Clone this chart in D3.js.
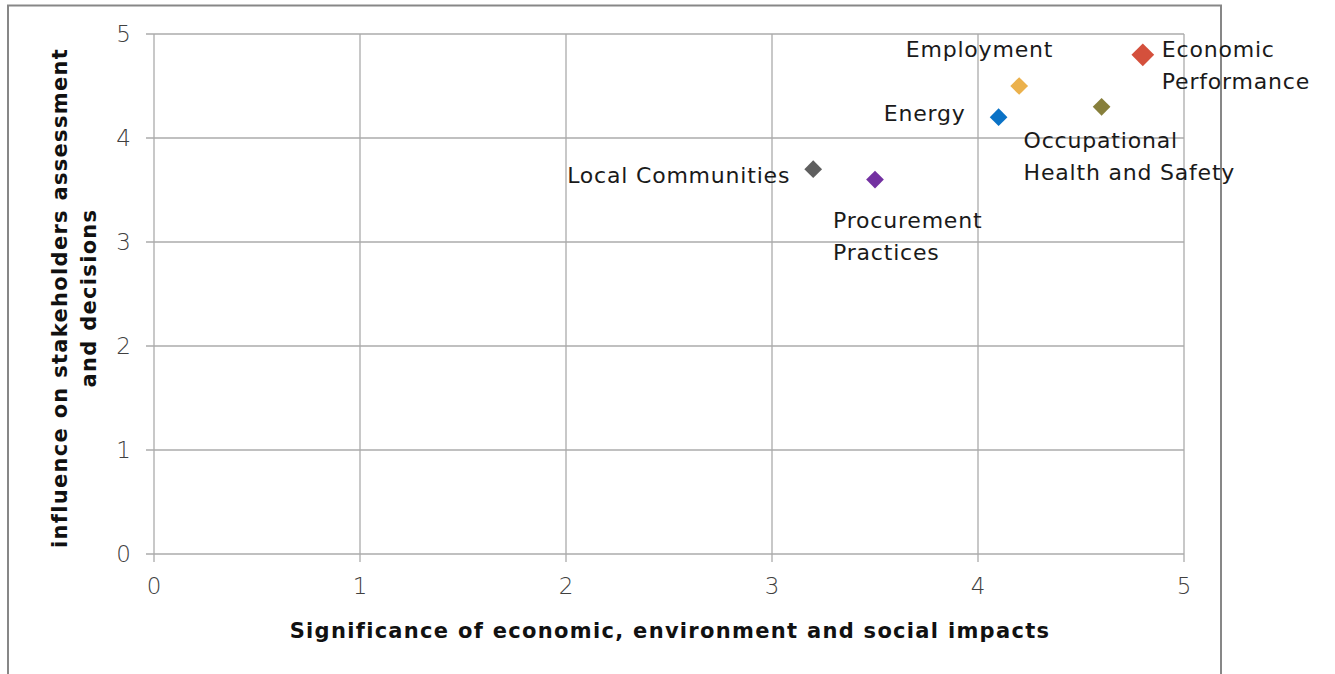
<!DOCTYPE html>
<html lang="en">
<head>
<meta charset="UTF-8">
<title>Materiality</title>
<script src="https://d3js.org/d3.v7.min.js"></script>
<style>
  body { margin: 0; background: #fff; }
  svg { display: block; font-family: "DejaVu Sans", sans-serif; }
</style>
</head>
<body>
<svg id="chart"></svg>
<script>
    const width = 1335;
    const height = 674;

    // data
    const topics = ["Economic Performance", "Employment", "Occupational Health and Safety", "Energy", "Local Communities", "Procurement Practices"];
    const significance = [4.8, 4.2, 4.6, 4.1, 3.2, 3.5];
    const influence = [4.8, 4.5, 4.3, 4.2, 3.7, 3.6];
    const colors = ["#d4503c", "#ebb14c", "#877f3b", "#0a72c6", "#5f5f5f", "#7331a1"];
    const labelLines = [["Economic", "Performance"], ["Employment"], ["Occupational", "Health and Safety"], ["Energy"], ["Local Communities"], ["Procurement", "Practices"]];
    const xTicks = [0, 1, 2, 3, 4, 5];
    const yTicks = [0, 1, 2, 3, 4, 5];

    // label placement: side and offsets relative to the point
    const labelPos = [
        {anchor: "start", dx: 19, dy: 2},
        {anchor: "end", dx: 34, dy: -29},
        {anchor: "start", dx: -78, dy: 41},
        {anchor: "end", dx: -33, dy: 4},
        {anchor: "end", dx: -23, dy: 14},
        {anchor: "start", dx: -42, dy: 48}
    ];

    const margin = {top: 34, right: 151, bottom: 120, left: 154};

    const x = d3.scaleLinear()
        .domain([0, 5])
        .range([margin.left, width - margin.right]);

    const y = d3.scaleLinear()
        .domain([0, 5])
        .range([height - margin.bottom, margin.top]);

    const svg = d3.select("#chart")
        .attr("width", width)
        .attr("height", height);

    // outer chart frame
    svg.append("path")
        .attr("d", "M8,680 L8,5.5 L1221,5.5 L1221,680")
        .attr("fill", "none")
        .attr("stroke", "#878787")
        .attr("stroke-width", 2);

    const grid = "#ababab";

    // grid lines
    svg.append("g")
        .selectAll("line")
        .data(xTicks)
        .join("line")
        .attr("x1", d => x(d)).attr("x2", d => x(d))
        .attr("y1", y(0) + 8).attr("y2", y(5))
        .attr("stroke", grid).attr("stroke-width", 1.3);

    svg.append("g")
        .selectAll("line")
        .data(yTicks)
        .join("line")
        .attr("x1", x(0) - 8).attr("x2", x(5))
        .attr("y1", d => y(d)).attr("y2", d => y(d))
        .attr("stroke", grid).attr("stroke-width", 1.3);

    // tick labels
    svg.append("g")
        .selectAll("text")
        .data(xTicks)
        .join("text")
        .attr("x", d => x(d))
        .attr("y", y(0) + 40)
        .attr("text-anchor", "middle")
        .attr("font-size", 23)
        .attr("font-weight", 200)
        .attr("fill", "#404040")
        .text(d => d);

    svg.append("g")
        .selectAll("text")
        .data(yTicks)
        .join("text")
        .attr("x", x(0) - 23)
        .attr("y", d => y(d) + 8)
        .attr("text-anchor", "end")
        .attr("font-size", 23)
        .attr("font-weight", 200)
        .attr("fill", "#404040")
        .text(d => d);

    // axis titles
    svg.append("text")
        .attr("x", 670)
        .attr("y", 638)
        .attr("text-anchor", "middle")
        .attr("font-size", 21)
        .attr("font-weight", "bold")
        .attr("letter-spacing", 1.3)
        .attr("fill", "#111")
        .text("Significance of economic, environment and social impacts");

    const yTitle = svg.append("text")
        .attr("transform", "translate(67," + (y(2.5) + 4) + ") rotate(-90)")
        .attr("text-anchor", "middle")
        .attr("font-size", 21)
        .attr("font-weight", "bold")
        .attr("letter-spacing", 1.3)
        .attr("fill", "#111");
    yTitle.append("tspan").attr("x", 0).attr("dy", 0).text("influence on stakeholders assessment");
    yTitle.append("tspan").attr("x", 0).attr("dy", 29).text("and decisions");

    // points
    const pts = topics.map((t, i) => ({t: t, sx: significance[i], sy: influence[i], c: colors[i], lines: labelLines[i], pos: labelPos[i], big: i === 0}));

    svg.append("g")
        .selectAll("path")
        .data(pts)
        .join("path")
        .attr("transform", d => "translate(" + x(d.sx) + "," + y(d.sy) + ")")
        .attr("d", d3.symbol().type(d3.symbolDiamond2).size(d => d.big ? 330 : 200))
        .attr("fill", d => d.c);

    const labels = svg.append("g")
        .selectAll("text")
        .data(pts)
        .join("text")
        .attr("x", d => x(d.sx) + d.pos.dx)
        .attr("y", d => y(d.sy) + d.pos.dy)
        .attr("text-anchor", d => d.pos.anchor)
        .attr("font-size", 22)
        .attr("letter-spacing", 0.8)
        .attr("fill", "#1a1a1a");

    labels.selectAll("tspan")
        .data(d => d.lines.map((l, k) => ({l: l, k: k, d: d})))
        .join("tspan")
        .attr("x", o => x(o.d.sx) + o.d.pos.dx)
        .attr("dy", o => o.k === 0 ? 0 : 32)
        .text(o => o.l);
</script>
</body>
</html>
